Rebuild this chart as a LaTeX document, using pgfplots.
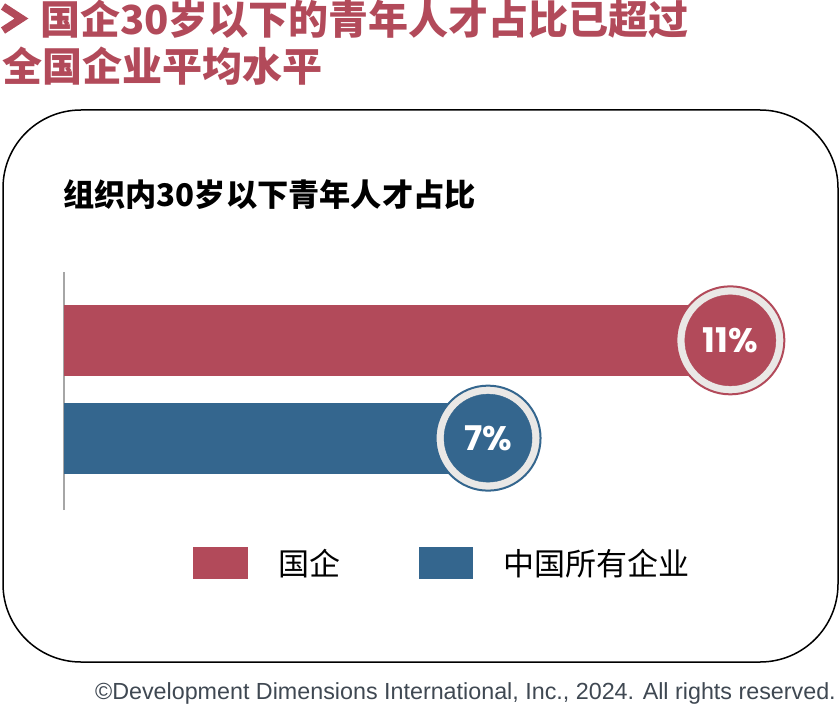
\documentclass[border=0pt]{standalone}
\usepackage{fontspec}
\usepackage{pgfplots}
\pgfplotsset{compat=1.18}
\setmainfont{Liberation Sans}
\newfontfamily\cjk{Noto Sans CJK SC}
\newfontfamily\pop{Poppins}
\definecolor{qired}{HTML}{B24A5A}
\definecolor{allblue}{HTML}{34668E}
\definecolor{ringgray}{HTML}{EAE8E6}
\definecolor{axgray}{HTML}{A6A6A6}
\definecolor{notegray}{HTML}{3F4852}

\begin{document}
\begin{tikzpicture}
\begin{scope}[x=1bp,y=-1bp]
  \path[use as bounding box] (0,0) rectangle (840,706);
  % title
  \draw[qired, line width=7.5bp, miter limit=10] (3,6.5) -- (21.5,18.5) -- (3,30.5);
  \node[anchor=base west, inner sep=0pt, text=qired,
        font=\cjk\bfseries\fontsize{40bp}{48bp}\selectfont] at (40,35)
        {国企30岁以下的青年人才占比已超过};
  \node[anchor=base west, inner sep=0pt, text=qired,
        font=\cjk\bfseries\fontsize{40bp}{48bp}\selectfont] at (2,82)
        {全国企业平均水平};
  % frame
  \draw[line width=1.5bp, rounded corners=78bp] (3,110) rectangle (838,662);
  \node[anchor=base west, inner sep=0pt,
        font=\cjk\bfseries\fontsize{31.2bp}{37bp}\selectfont] at (63,206)
        {组织内30岁以下青年人才占比};
  % source
  \node[anchor=base east, inner sep=0pt, text=notegray,
        font=\fontsize{23.3bp}{28bp}\selectfont] at (836,699)
        {©Development Dimensions International, Inc., 2024. All rights reserved.};
  \coordinate (O) at (64,510);
\end{scope}

\begin{axis}[
  at={(O)}, anchor=south west,
  scale only axis,
  width=736bp, height=238bp,
  xmin=0, xmax=12.15,
  ymin=-0.735, ymax=1.699,
  axis x line=none,
  axis y line=left,
  axis line style={-, draw=axgray, line width=2bp},
  y axis line style={-},
  xtick=\empty, ytick=\empty,
  clip=false,
  legend columns=2,
  legend style={
    at={(0.171,-0.2224)}, anchor=west,
    draw=none, fill=none,
    nodes={inner sep=0pt},
    font=\cjk\fontsize{31bp}{37bp}\selectfont,
    /tikz/every odd column/.style={column sep=30bp},
    /tikz/every even column/.style={column sep=79bp},
  },
]
  % bars
  \addplot[xbar, bar width=71bp, bar shift=0pt, fill=qired, draw=none,
    legend image code/.code={\fill[qired] (0bp,-15.6bp) rectangle (55bp,16.4bp);}]
    coordinates {(11,1)};
  \addlegendentry{国企}
  \addplot[xbar, bar width=71bp, bar shift=0pt, fill=allblue, draw=none,
    legend image code/.code={\fill[allblue] (0bp,-15.6bp) rectangle (54bp,16.4bp);}]
    coordinates {(7,0)};
  \addlegendentry{中国所有企业}

  % value badges
  \addplot[qired, forget plot, only marks, mark=*, mark size=54bp,
    mark options={fill=ringgray, draw=qired, line width=2bp}]
    coordinates {(11,1)};
  \addplot[qired, forget plot, only marks, mark=*, mark size=45.5bp,
    mark options={fill=qired, draw=none},
    nodes near coords, point meta=explicit symbolic,
    every node near coord/.append style={anchor=center, text=white,
      font=\pop\bfseries\fontsize{34bp}{40bp}\selectfont}]
    coordinates {(11,1) [11\%]};

  \addplot[allblue, forget plot, only marks, mark=*, mark size=52.5bp,
    mark options={fill=ringgray, draw=allblue, line width=2bp}]
    coordinates {(7,0)};
  \addplot[allblue, forget plot, only marks, mark=*, mark size=44bp,
    mark options={fill=allblue, draw=none},
    nodes near coords, point meta=explicit symbolic,
    every node near coord/.append style={anchor=center, text=white,
      font=\pop\bfseries\fontsize{34bp}{40bp}\selectfont}]
    coordinates {(7,0) [7\%]};
\end{axis}
\end{tikzpicture}
\end{document}
